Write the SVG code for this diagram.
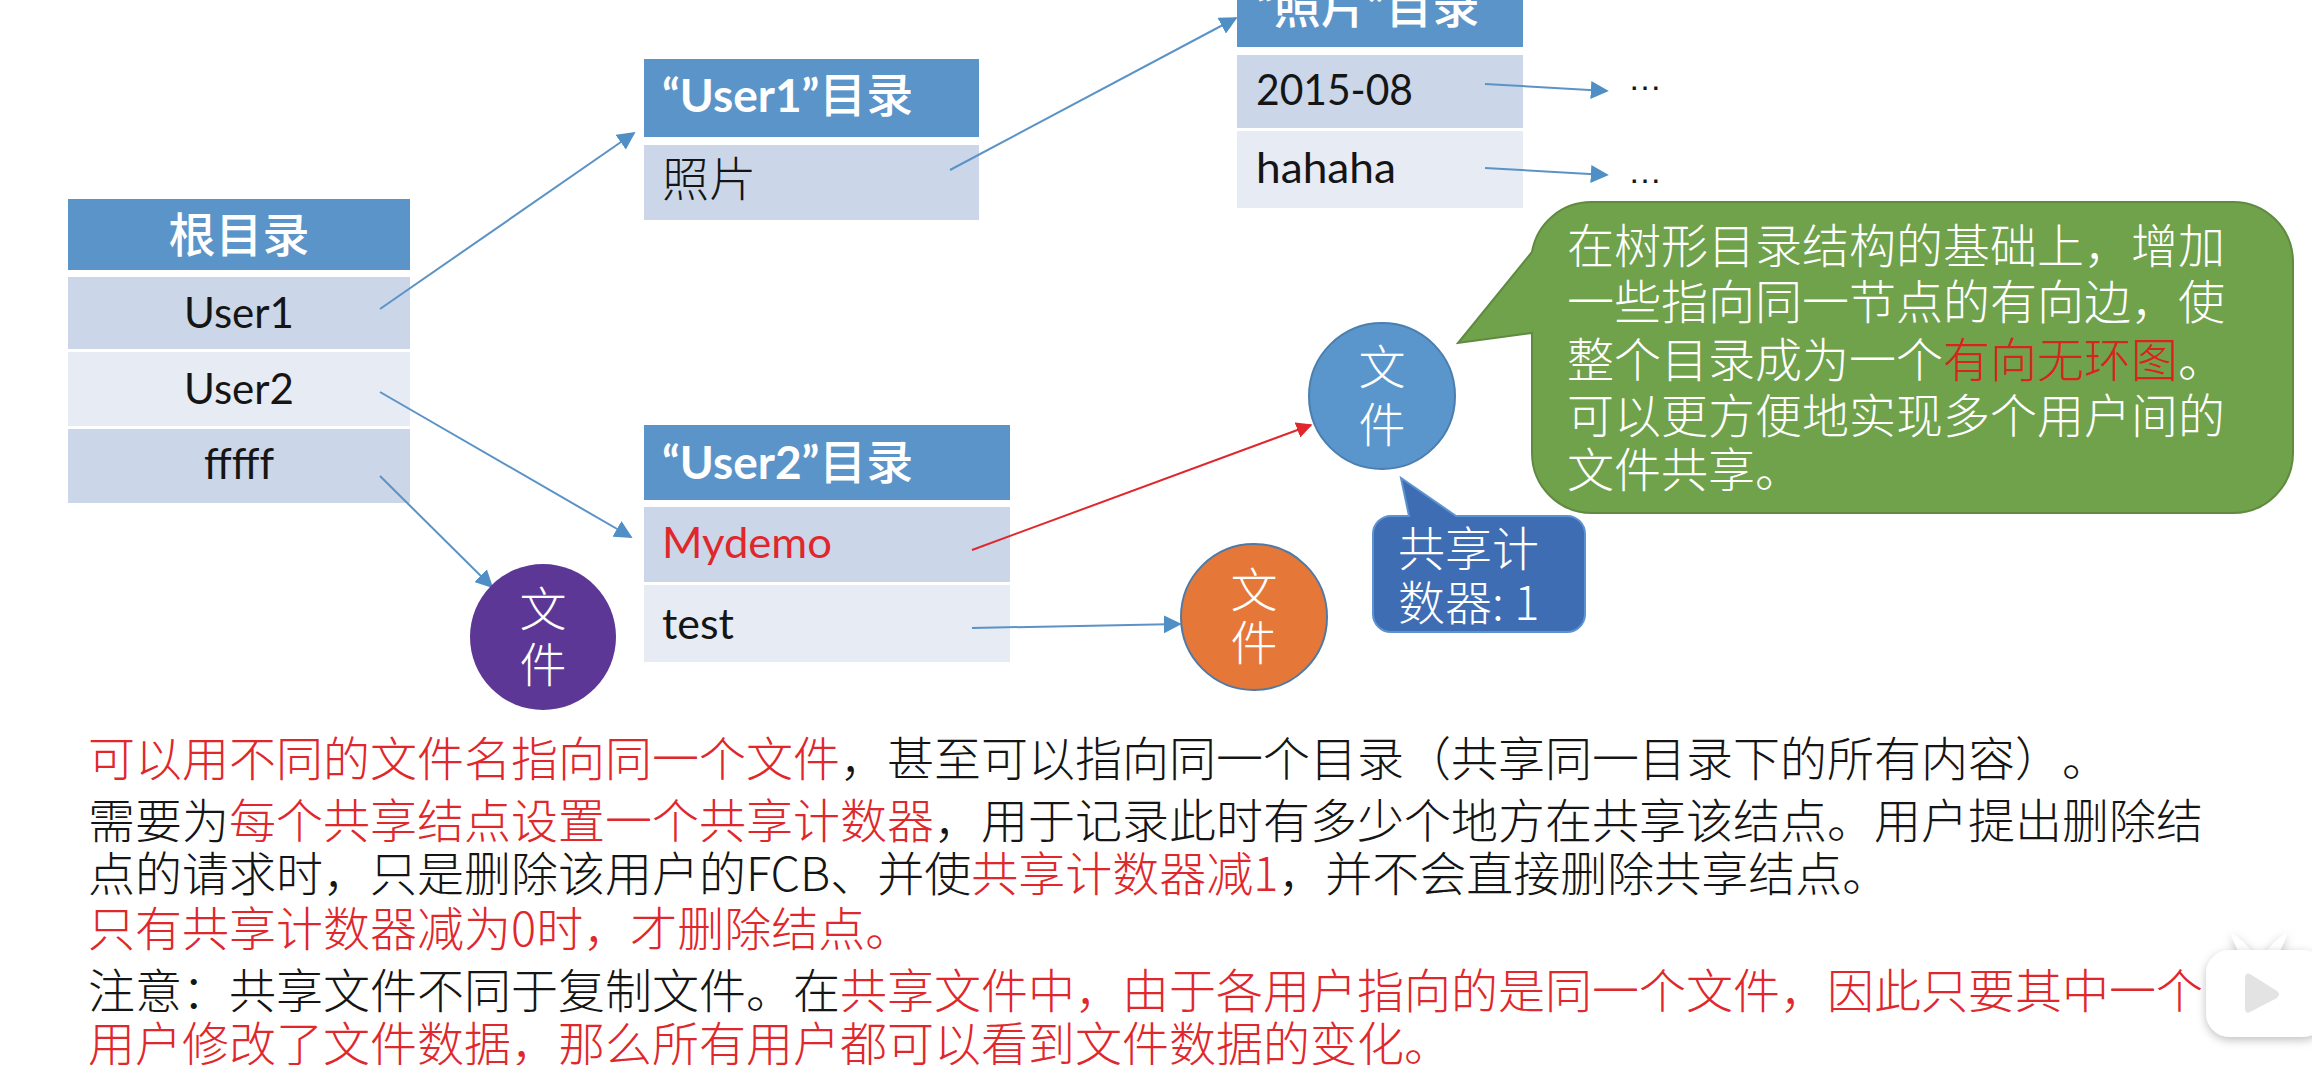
<svg xmlns="http://www.w3.org/2000/svg" width="2312" height="1065" viewBox="0 0 2312 1065">
<style>
text{font-family:"Noto Sans CJK SC","Noto Sans",sans-serif;font-size:47px;font-weight:300;text-spacing-trim:space-all;font-feature-settings:"chws" 0,"palt" 0}
.lat{font-family:Lato,"Noto Sans CJK SC",sans-serif;font-size:43px;font-weight:400}
.qt{font-family:Lato,"Noto Sans CJK SC",sans-serif;font-size:46px;font-weight:700}
.hb{font-weight:500}
.hd{fill:#5b94c8}.a{fill:#cbd6e8}.b{fill:#e6ebf4}
.w{fill:#fff}.k{fill:#151515}.r{fill:#e0272c}
.m{text-anchor:middle}
.dots{font-family:"Liberation Sans",sans-serif;font-size:34px}
.c{stroke-width:2;fill:none}
.bl{stroke:#5b93c6;marker-end:url(#ab)}
.rd{stroke:#e0282c;marker-end:url(#ar)}
</style>
<defs>
<marker id="ab" viewBox="0 0 10 10" refX="9" refY="5" markerWidth="9" markerHeight="9" orient="auto"><path d="M0 0L10 5L0 10z" fill="#4f8fc6"/></marker>
<marker id="ar" viewBox="0 0 10 10" refX="9" refY="5" markerWidth="8" markerHeight="8" orient="auto"><path d="M0 0L10 5L0 10z" fill="#e0282c"/></marker>
<filter id="sh" x="-30%" y="-30%" width="160%" height="160%"><feDropShadow dx="0" dy="3" stdDeviation="5" flood-color="#000" flood-opacity=".25"/></filter>
</defs>
<rect width="2312" height="1065" fill="#fff"/>
<g id="root-dir">
<rect class="hd" x="68" y="199" width="342" height="71"/><rect class="a" x="68" y="277" width="342" height="72"/><rect class="b" x="68" y="352" width="342" height="74"/><rect class="a" x="68" y="429" width="342" height="74"/>
<text class="w m hb" x="239" y="252">根目录</text>
<text class="lat k m" x="239" y="328" textLength="110" lengthAdjust="spacingAndGlyphs">User1</text>
<text class="lat k m" x="239" y="404" textLength="110" lengthAdjust="spacingAndGlyphs">User2</text>
<text class="lat k m" x="239" y="479" textLength="70" lengthAdjust="spacingAndGlyphs">fffff</text>
</g>
<g id="user1-dir">
<rect class="hd" x="644" y="59" width="335" height="78"/><rect class="a" x="644" y="145" width="335" height="75"/>
<text class="w hb" x="662" y="112"><tspan class="qt">“User1”</tspan>目录</text>
<text class="k" x="662" y="196">照片</text>
</g>
<g id="photo-dir">
<rect class="hd" x="1237" y="-10" width="286" height="57"/><rect class="a" x="1237" y="55" width="286" height="73"/><rect class="b" x="1237" y="131" width="286" height="77"/>
<text class="w hb" x="1256" y="23"><tspan class="qt">“</tspan>照片<tspan class="qt">”</tspan>目录</text>
<text class="lat k" x="1256" y="105" textLength="157" lengthAdjust="spacingAndGlyphs">2015-08</text>
<text class="lat k" x="1256" y="183" textLength="140" lengthAdjust="spacingAndGlyphs">hahaha</text>
<text x="1628" y="90" class="k dots">…</text>
<text x="1628" y="183" class="k dots">…</text>
</g>
<g id="user2-dir">
<rect class="hd" x="644" y="425" width="366" height="75"/><rect class="a" x="644" y="507" width="366" height="75"/><rect class="b" x="644" y="585" width="366" height="77"/>
<text class="w hb" x="662" y="479"><tspan class="qt">“User2”</tspan>目录</text>
<text class="lat r" x="662" y="558" textLength="170" lengthAdjust="spacingAndGlyphs">Mydemo</text>
<text class="lat k" x="662" y="639" textLength="72" lengthAdjust="spacingAndGlyphs">test</text>
</g>
<g id="connectors">
<path class="c bl" d="M380 309L634 133"/>
<path class="c bl" d="M380 392L631 537"/>
<path class="c bl" d="M380 476L492 587"/>
<path class="c bl" d="M950 170L1236 18"/>
<path class="c bl" d="M1485 84L1607 91"/>
<path class="c bl" d="M1485 168L1607 175"/>
<path class="c rd" d="M972 550L1311 425"/>
<path class="c bl" d="M972 628L1180 624"/>
</g>
<g id="file-purple"><circle cx="543" cy="637" r="73" fill="#5c3795"/><text class="w m" x="543" y="626">文</text><text class="w m" x="543" y="682">件</text></g>
<g id="file-blue"><circle cx="1382" cy="396" r="73" fill="#5a96cb" stroke="#4a7fb0" stroke-width="2"/><text class="w m" x="1382" y="384">文</text><text class="w m" x="1382" y="442">件</text></g>
<g id="file-orange"><circle cx="1254" cy="617" r="73" fill="#e57839" stroke="#4f7aa6" stroke-width="2"/><text class="w m" x="1254" y="607">文</text><text class="w m" x="1254" y="660">件</text></g>
<g id="callout-green">
<path d="M1592 202H2233A60 60 0 0 1 2293 262V453A60 60 0 0 1 2233 513H1592A60 60 0 0 1 1532 453V333L1458 343L1532 252A60 60 0 0 1 1592 202Z" fill="#70a24c" stroke="#5f8a40" stroke-width="2"/>
<text class="w" x="1567" y="263">在树形目录结构的基础上，增加</text>
<text class="w" x="1567" y="319">一些指向同一节点的有向边，使</text>
<text class="w" x="1567" y="377">整个目录成为一个<tspan fill="#d8241c">有向无环图</tspan>。</text>
<text class="w" x="1567" y="433">可以更方便地实现多个用户间的</text>
<text class="w" x="1567" y="487">文件共享。</text>
</g>
<g id="callout-blue">
<path d="M1391 516H1409L1401 478L1456 516H1567A18 18 0 0 1 1585 534V614A18 18 0 0 1 1567 632H1391A18 18 0 0 1 1373 614V534A18 18 0 0 1 1391 516Z" fill="#3f6db4" stroke="#5b93d0" stroke-width="2"/>
<text class="w" x="1398" y="566">共享计</text>
<text class="w" x="1398" y="620">数器: 1</text>
</g>
<g id="notes">
<text class="k" x="88" y="776"><tspan class="r">可以用不同的文件名指向同一个文件</tspan>，甚至可以指向同一个目录（共享同一目录下的所有内容）。</text>
<text class="k" x="88" y="838">需要为<tspan class="r">每个共享结点设置一个共享计数器</tspan>，用于记录此时有多少个地方在共享该结点。用户提出删除结</text>
<text class="k" x="88" y="891">点的请求时，只是删除该用户的FCB、并使<tspan class="r">共享计数器减1</tspan>，并不会直接删除共享结点。</text>
<text class="r" x="88" y="946">只有共享计数器减为0时，才删除结点。</text>
<text class="k" x="88" y="1008">注意：共享文件不同于复制文件。在<tspan class="r">共享文件中，由于各用户指向的是同一个文件，因此只要其中一个</tspan></text>
<text class="r" x="88" y="1061">用户修改了文件数据，那么所有用户都可以看到文件数据的变化。</text>
</g>
<g id="player-badge">
<path d="M2240 955Q2228 930 2233 934Q2243 940 2252 952ZM2278 955Q2290 930 2285 934Q2275 940 2266 952Z" fill="#fff" filter="url(#sh)"/>
<rect x="2206" y="950" width="120" height="87" rx="24" fill="#fff" filter="url(#sh)"/>
<path d="M2250 974Q2245 972 2245 979V1007Q2245 1015 2250 1012L2277 998Q2281 994 2277 991Z" fill="#e3e3e3"/>
</g>
</svg>
